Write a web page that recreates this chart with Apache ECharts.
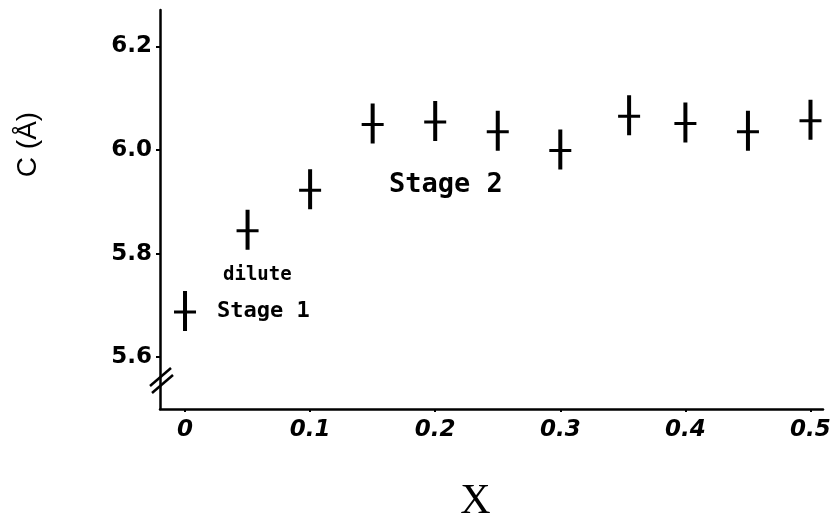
<!DOCTYPE html>
<html>
<head>
<meta charset="utf-8">
<script src="https://cdn.jsdelivr.net/npm/echarts@6/dist/echarts.min.js"></script>
<style>
  html, body { margin: 0; padding: 0; background: #fff; }
  #chart { width: 838px; height: 522px; }
</style>
</head>
<body>
<div id="chart"></div>
<script>
// ---- data ----
const xValues = [0.0, 0.05, 0.1, 0.15, 0.2, 0.25, 0.3, 0.355, 0.4, 0.45, 0.5];
const cValues = [5.689, 5.846, 5.924, 6.051, 6.056, 6.037, 6.001, 6.067, 6.053, 6.037, 6.058];
const xTickValues = [0, 0.1, 0.2, 0.3, 0.4, 0.5];
const yTickValues = [5.6, 5.8, 6.0, 6.2];
const xTitle = 'X';
const yTitle = 'C (Å)';
const annotations = ['dilute', 'Stage 1', 'Stage 2'];

const points = xValues.map((x, i) => [x, cValues[i]]);

// plus-shaped marker (vertical bar 4px, horizontal bar 3px in a 22x40 box)
const crossPath = 'path://M9,0 L13,0 L13,19.5 L22,19.5 L22,22.5 L13,22.5 L13,40 L9,40 L9,22.5 L0,22.5 L0,19.5 L9,19.5 Z';

const chart = echarts.init(document.getElementById('chart'), null, { renderer: 'canvas' });
chart.setOption({
  backgroundColor: '#ffffff',
  animation: false,
  grid: { left: 160, right: 15, top: 10, bottom: 113, containLabel: false, outerBoundsMode: 'none' },
  xAxis: {
    type: 'value',
    min: -0.02,
    max: 0.51,
    name: xTitle,
    nameLocation: 'middle',
    nameGap: 72,
    nameTextStyle: { fontFamily: 'Liberation Serif', fontSize: 42, color: '#000', padding: [0, 32, 0, 0] },
    axisLine: { show: true, onZero: false, lineStyle: { color: '#000', width: 2.5 } },
    axisTick: { show: true, customValues: xTickValues, length: 3, lineStyle: { color: '#000', width: 2 } },
    axisLabel: {
      customValues: xTickValues,
      formatter: v => (Math.abs(v) < 1e-9 ? '0' : v.toFixed(1)),
      fontFamily: 'DejaVu Sans', fontWeight: 'bold', fontStyle: 'italic',
      fontSize: 23, color: '#000', margin: 10
    },
    splitLine: { show: false }
  },
  yAxis: {
    type: 'value',
    min: 5.5,
    max: 6.27,
    name: yTitle,
    nameLocation: 'middle',
    nameGap: 118,
    nameTextStyle: { fontFamily: 'Liberation Sans', fontSize: 28, color: '#000', padding: [0, 0, 0, 130] },
    axisLine: { show: true, onZero: false, lineStyle: { color: '#000', width: 2.5 } },
    axisTick: { show: true, customValues: yTickValues, length: 4, lineStyle: { color: '#000', width: 2 } },
    axisLabel: {
      customValues: yTickValues,
      formatter: v => v.toFixed(1),
      fontFamily: 'DejaVu Sans', fontWeight: 'bold',
      fontSize: 23, color: '#000', margin: 8
    },
    splitLine: { show: false }
  },
  series: [{
    type: 'scatter',
    data: points,
    symbol: crossPath,
    symbolSize: [22, 40],
    itemStyle: { color: '#000', opacity: 1 },
    emphasis: { disabled: true }
  }],
  graphic: [
    { type: 'text', left: 223, top: 266, style: { text: annotations[0], font: 'bold 19px "DejaVu Sans Mono"', fill: '#000' } },
    { type: 'text', left: 217, top: 300, style: { text: annotations[1], font: 'bold 22px "DejaVu Sans Mono"', fill: '#000' } },
    { type: 'text', left: 389, top: 171, style: { text: annotations[2], font: 'bold 27px "DejaVu Sans Mono"', fill: '#000' } },
    { type: 'line', shape: { x1: 150, y1: 386, x2: 171, y2: 368 }, style: { stroke: '#000', lineWidth: 2.5 } },
    { type: 'line', shape: { x1: 152, y1: 393, x2: 173, y2: 375 }, style: { stroke: '#000', lineWidth: 2.5 } }
  ]
});
</script>
</body>
</html>
